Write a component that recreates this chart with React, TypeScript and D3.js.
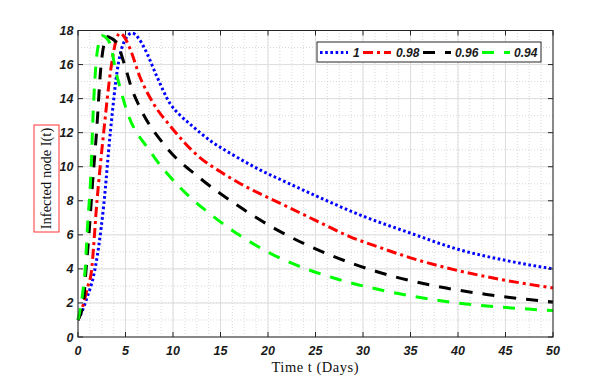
import React from "react";
import * as d3 from "d3";

const xTicks = [0, 5, 10, 15, 20, 25, 30, 35, 40, 45, 50];
const yTicks = [0, 2, 4, 6, 8, 10, 12, 14, 16, 18];

const tBlue = [0, 0.5, 1, 1.6, 2.2, 2.7, 3.4, 4.2, 5.0, 5.7, 6.3, 7.05, 8.3, 9.7, 10.7, 11.8, 14, 16.3, 19.2, 21.3, 25, 30, 35, 40, 45, 50];
const iBlue = [1, 1.6, 2.4, 3.5, 5.4, 7.7, 12.0, 15.9, 17.5, 17.85, 17.6, 16.9, 15.3, 13.7, 13.05, 12.5, 11.5, 10.7, 9.8, 9.25, 8.3, 7.1, 6.1, 5.15, 4.5, 4.0];

const tRed = [0, 0.5, 1, 1.4, 2.0, 2.7, 3.5, 4.0, 4.4, 4.9, 5.5, 6.5, 7.9, 9.7, 12.8, 15, 17.1, 19.2, 21.3, 25, 28.6, 31.8, 35, 40, 45, 50];
const iRed = [1, 1.8, 2.9, 3.8, 8.0, 12.0, 15.9, 17.4, 17.85, 17.6, 16.9, 15.3, 13.75, 12.4, 10.55, 9.7, 9.0, 8.4, 7.85, 6.85, 5.9, 5.25, 4.65, 3.9, 3.33, 2.88];

const tBlack = [0, 0.56, 0.84, 1.15, 1.5, 1.96, 2.4, 2.7, 3.0, 3.5, 4.1, 4.95, 5.65, 6.5, 9.2, 12.8, 16.7, 20.6, 26.5, 31.4, 37, 43, 50];
const iBlack = [1, 2, 3.9, 6, 8.8, 12.1, 15.8, 17.1, 17.65, 17.55, 17.25, 15.9, 14.6, 13.5, 11.2, 9.35, 7.76, 6.4, 4.82, 3.85, 3.06, 2.5, 2.05];

const tGreen = [0, 0.25, 0.49, 0.77, 0.98, 1.34, 1.61, 1.9, 2.2, 2.5, 3.0, 3.5, 3.9, 4.4, 5.1, 7.6, 10.7, 14.2, 20.3, 27, 32, 39.2, 44, 50];
const iGreen = [1, 1.7, 2.57, 4.1, 6.3, 9.4, 13.35, 16.1, 17.3, 17.7, 17.55, 17.0, 15.8, 14.7, 13.35, 10.9, 8.8, 7.1, 4.9, 3.45, 2.75, 2.05, 1.78, 1.55];

const seriesNames = ["1", "0.98", "0.96", "0.94"];
const seriesT = [tBlue, tRed, tBlack, tGreen];
const seriesI = [iBlue, iRed, iBlack, iGreen];
const colors = ["#0000ff", "#ff0000", "#000000", "#00ff00"];
const dashes = ["2.6,2.6", "10,4,3,4", "12,10", "12,10"];

export default function App() {
  const W = 608, H = 381;
  const x = d3.scaleLinear().domain([0, 50]).range([78, 553]);
  const y = d3.scaleLinear().domain([0, 18]).range([337, 30.5]);
  const line = d3.line<[number, number]>().x(d => x(d[0])).y(d => y(d[1])).curve(d3.curveMonotoneX);
  const xMinor = d3.range(0, 50.001, 1.25);
  const yMinor = d3.range(0, 18.001, 1);
  const tickFont = "'Liberation Sans', Arial, sans-serif";
  const [x0, x1] = x.range();
  const [y0, y1] = y.range();
  return (
    <svg width={W} height={H} style={{ position: "absolute", left: 0, top: 0, background: "#fff" }}>
      <rect x={0} y={0} width={W} height={H} fill="#fff" />
      <rect x={x0} y={y1} width={x1 - x0} height={y0 - y1} fill="#fff" />
      {xMinor.map((v, i) => (
        <line key={"xm" + i} x1={x(v)} x2={x(v)} y1={y0} y2={y1} stroke="#c8c8c8" strokeWidth={0.7} strokeDasharray="1,2" />
      ))}
      {yMinor.map((v, i) => (
        <line key={"ym" + i} x1={x0} x2={x1} y1={y(v)} y2={y(v)} stroke="#c8c8c8" strokeWidth={0.7} strokeDasharray="1,2" />
      ))}
      {xTicks.map((v, i) => (
        <line key={"xg" + i} x1={x(v)} x2={x(v)} y1={y0} y2={y1} stroke="#dedede" strokeWidth={1} />
      ))}
      {yTicks.map((v, i) => (
        <line key={"yg" + i} x1={x0} x2={x1} y1={y(v)} y2={y(v)} stroke="#dedede" strokeWidth={1} />
      ))}
      {seriesT.map((ts, k) => {
        const pts = ts.map((t, j) => [t, seriesI[k][j]] as [number, number]);
        return (
          <path key={"s" + k} d={line(pts) || ""} fill="none" stroke={colors[k]} strokeWidth={3}
            strokeDasharray={dashes[k]} strokeLinecap="butt" />
        );
      })}
      <rect x={x0} y={y1} width={x1 - x0} height={y0 - y1} fill="none" stroke="#262626" strokeWidth={1} />
      {xTicks.map((v, i) => (
        <g key={"xt" + i}>
          <line x1={x(v)} x2={x(v)} y1={y0} y2={y0 - 5} stroke="#262626" />
          <line x1={x(v)} x2={x(v)} y1={y1} y2={y1 + 5} stroke="#262626" />
          <text x={x(v)} y={355} textAnchor="middle" fontFamily={tickFont} fontWeight="bold" fontStyle="italic" fontSize={12.5} fill="#1a1a1a">{v}</text>
        </g>
      ))}
      {yTicks.map((v, i) => (
        <g key={"yt" + i}>
          <line x1={x0} x2={x0 + 5} y1={y(v)} y2={y(v)} stroke="#262626" />
          <line x1={x1} x2={x1 - 5} y1={y(v)} y2={y(v)} stroke="#262626" />
          <text x={73.5} y={y(v) + 4.5} textAnchor="end" fontFamily={tickFont} fontWeight="bold" fontStyle="italic" fontSize={12.5} fill="#1a1a1a">{v}</text>
        </g>
      ))}
      <text x={315} y={372} textAnchor="middle" fontFamily="'Liberation Serif', 'Times New Roman', serif" fontSize={14.5} textLength={87} lengthAdjust="spacing" fill="#111">Time t (Days)</text>
      <rect x={34} y={125} width={25} height={107} fill="none" stroke="#ff3333" strokeWidth={1} />
      <text transform="translate(51,178.5) rotate(-90)" textAnchor="middle" fontFamily="'Liberation Serif', 'Times New Roman', serif" fontSize={14.5} fill="#111">Infected node I(t)</text>
      <g>
        <rect x={317} y={42} width={224} height={20} fill="#fff" stroke="#262626" strokeWidth={1} />
        {seriesNames.map((n, k) => {
          const lx = [320, 363, 423, 482][k];
          const tx = [353, 396, 455, 514][k];
          return (
            <g key={"lg" + k}>
              <line x1={lx} x2={lx + 28} y1={52.5} y2={52.5} stroke={colors[k]} strokeWidth={3} strokeDasharray={dashes[k]} />
              <text x={tx} y={57} fontFamily={tickFont} fontWeight="bold" fontStyle="italic" fontSize={12} fill="#1a1a1a">{n}</text>
            </g>
          );
        })}
      </g>
    </svg>
  );
}
